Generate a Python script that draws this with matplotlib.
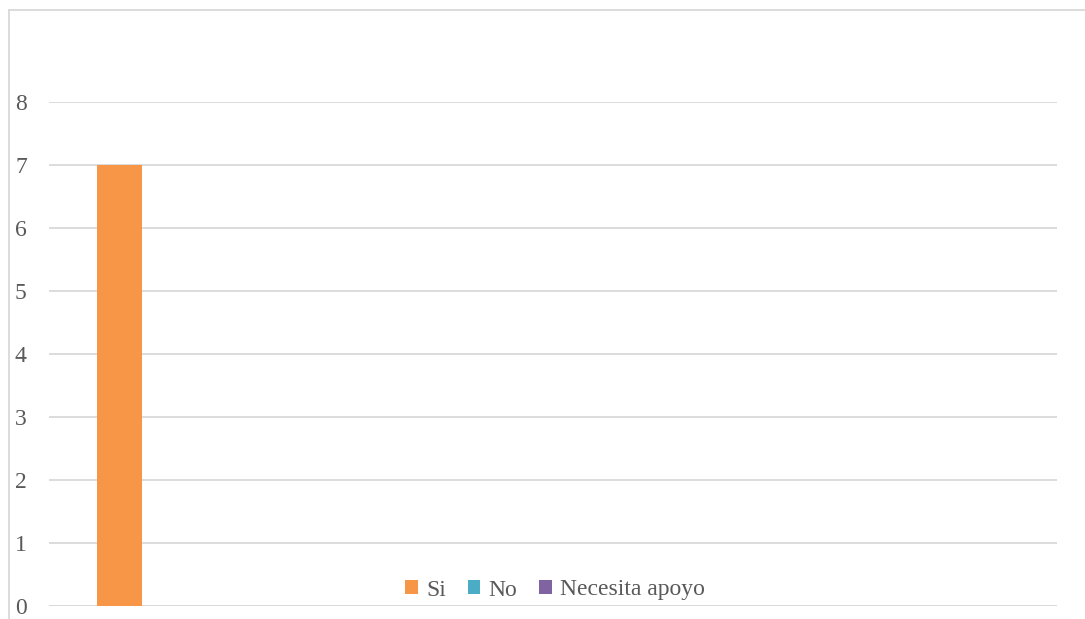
import matplotlib
matplotlib.use("Agg")
import matplotlib.pyplot as plt
from matplotlib.lines import Line2D
from matplotlib.patches import Patch

# Data
categories = ["Respuesta"]
series_names = ["Si", "No", "Necesita apoyo"]
si_values = [7]
no_values = [0]
apoyo_values = [0]
y_ticks = [0, 1, 2, 3, 4, 5, 6, 7, 8]
colors = ["#F79646", "#4BACC6", "#8064A2"]

plt.rcParams['font.family'] = ['Liberation Serif', 'DejaVu Serif']

W, H = 1085, 619
fig = plt.figure(figsize=(W / 100, H / 100), dpi=100)
ax = fig.add_axes([49 / W, 13 / H, (1057 - 49) / W, (606 - 102) / H])

bar_w = 0.223
offsets = [-0.150, 0.073, 0.296]
x = list(range(len(categories)))
for vals, name, col, off in zip([si_values, no_values, apoyo_values], series_names, colors, offsets):
    ax.bar([xi + off for xi in x], vals, width=bar_w, color=col, label=name, zorder=3)

ax.set_xlim(-0.5, 4.5)
ax.set_ylim(0, 8)
ax.set_yticks(y_ticks)
ax.set_xticks([])
ax.grid(axis='y', color='#d9d9d9', linewidth=1.3, zorder=0)
ax.tick_params(axis='y', length=0, pad=16, labelsize=17, labelcolor='#595959')
for s in ax.spines.values():
    s.set_visible(False)
ax.axhline(0, color='#d9d9d9', linewidth=1.3, zorder=2)

handles = [Patch(facecolor=c, edgecolor='none') for c in colors]
fig.legend(handles, series_names, loc='center', bbox_to_anchor=(555 / W, 29 / H),
           ncol=3, frameon=False, fontsize=17, labelcolor='#595959',
           handlelength=0.55, handleheight=0.55, handletextpad=0.35, columnspacing=0.9)

fig.add_artist(Line2D([9 / W, 9 / W], [0, 1 - 10 / H], transform=fig.transFigure, color='#d9d9d9', linewidth=1.3))
fig.add_artist(Line2D([9 / W, 1], [1 - 10 / H, 1 - 10 / H], transform=fig.transFigure, color='#d9d9d9', linewidth=1.3))

fig.savefig("out.png", dpi=100, facecolor='white')
